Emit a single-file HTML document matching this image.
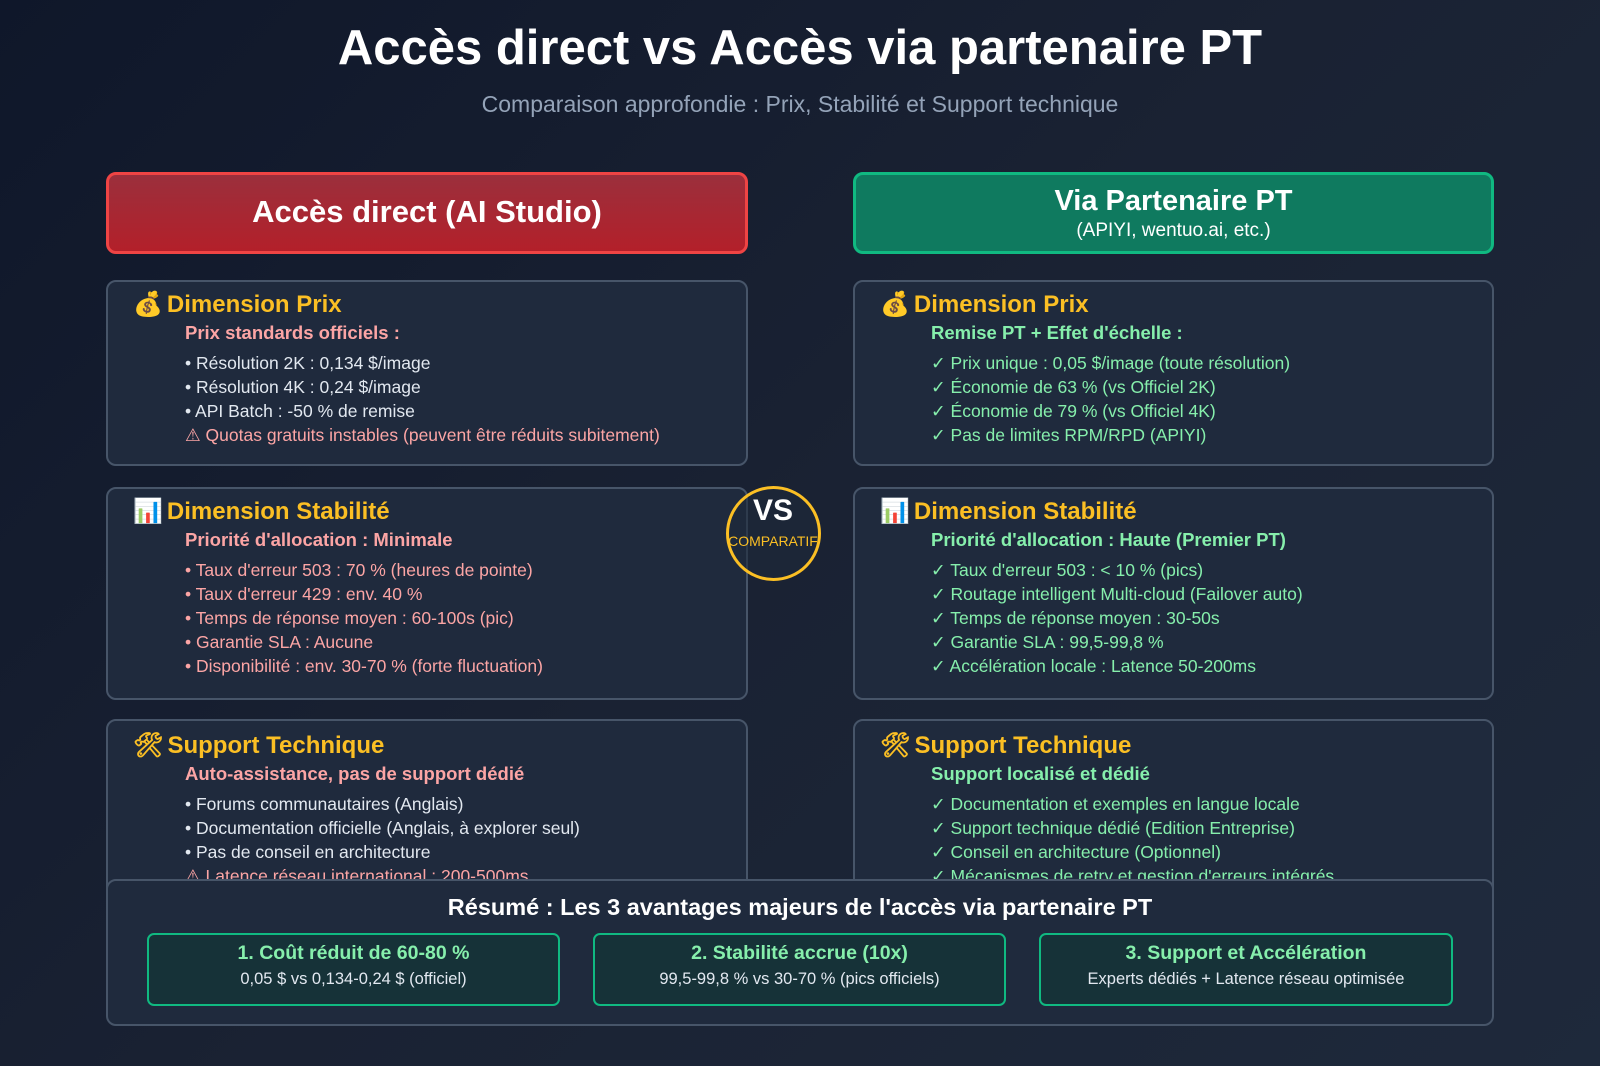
<!DOCTYPE html>
<html><head><meta charset="utf-8"><style>
*{margin:0;padding:0;box-sizing:border-box}
body{width:1600px;height:1066px;overflow:hidden;background:linear-gradient(135deg,#0f172a 0%,#1a2233 50%,#1e293b 100%);font-family:"Liberation Sans","DejaVu Sans",sans-serif;position:relative;color:#e2e8f0}
.a{position:absolute;white-space:nowrap}
.t{left:0;width:1600px;text-align:center}
.hdr{position:absolute;border-radius:10px;text-align:center;color:#fff}
.card{position:absolute;background:#1f2a3d;border:2px solid #475569;border-radius:10px;overflow:hidden}
.h{font-size:24px;font-weight:bold;color:#fbbf24}
.s{font-size:18.5px;font-weight:bold}
.i{font-size:17.5px}
.box{position:absolute;top:933px;height:73px;border:2px solid #10b981;border-radius:7px;background:#163238;text-align:center}
.box b{display:block;color:#86efac;font-size:19.5px;margin-top:7px}
.box span{display:block;color:#e2e8f0;font-size:16.5px;margin-top:5px}
</style></head><body>
<div class="a t" style="top:20px;font-size:49px;font-weight:bold;color:#fff">Accès direct vs Accès via partenaire PT</div>
<div class="a t" style="top:91px;font-size:23px;color:#94a3b8">Comparaison approfondie : Prix, Stabilité et Support technique</div>

<div class="hdr" style="left:106px;top:172px;width:642px;height:82px;background:linear-gradient(180deg,#9b2f3c,#b3202a);border:3px solid #ef4444;"><div style="font-size:31px;font-weight:bold;margin-top:19px">Accès direct (AI Studio)</div></div>
<div class="hdr" style="left:853px;top:172px;width:641px;height:82px;background:#0f7a5f;border:3px solid #10b981;"><div style="font-size:29px;font-weight:bold;margin-top:10px">Via Partenaire PT</div><div style="font-size:19px;margin-top:2px">(APIYI, wentuo.ai, etc.)</div></div>

<div class="card" style="left:106px;top:280px;width:642px;height:186px"></div>
<div class="card" style="left:106px;top:487px;width:642px;height:213px"></div>
<div class="card" style="left:106px;top:719px;width:642px;height:200px"></div>
<div class="card" style="left:853px;top:280px;width:641px;height:186px"></div>
<div class="card" style="left:853px;top:487px;width:641px;height:213px"></div>
<div class="card" style="left:853px;top:719px;width:641px;height:200px"></div>

<div class="a h" style="left:133px;top:290px">💰<span style="margin-left:4px">Dimension Prix</span></div>
<div class="a s" style="left:185px;top:322px;color:#fca5a5">Prix standards officiels :</div>
<div class="a i" style="left:185px;top:353px">• Résolution 2K : 0,134 $/image</div>
<div class="a i" style="left:185px;top:377px">• Résolution 4K : 0,24 $/image</div>
<div class="a i" style="left:185px;top:401px">• API Batch : -50 % de remise</div>
<div class="a i" style="left:185px;top:425px;color:#fca5a5">⚠ Quotas gratuits instables (peuvent être réduits subitement)</div>

<div class="a h" style="left:133px;top:497px">📊<span style="margin-left:4px">Dimension Stabilité</span></div>
<div class="a s" style="left:185px;top:529px;color:#fca5a5">Priorité d'allocation : Minimale</div>
<div class="a i" style="left:185px;top:560px;color:#fca5a5">• Taux d'erreur 503 : 70 % (heures de pointe)</div>
<div class="a i" style="left:185px;top:584px;color:#fca5a5">• Taux d'erreur 429 : env. 40 %</div>
<div class="a i" style="left:185px;top:608px;color:#fca5a5">• Temps de réponse moyen : 60-100s (pic)</div>
<div class="a i" style="left:185px;top:632px;color:#fca5a5">• Garantie SLA : Aucune</div>
<div class="a i" style="left:185px;top:656px;color:#fca5a5">• Disponibilité : env. 30-70 % (forte fluctuation)</div>

<div class="a h" style="left:133px;top:731px">🛠<span style="margin-left:4px">Support Technique</span></div>
<div class="a s" style="left:185px;top:763px;color:#fca5a5">Auto-assistance, pas de support dédié</div>
<div class="a i" style="left:185px;top:794px">• Forums communautaires (Anglais)</div>
<div class="a i" style="left:185px;top:818px">• Documentation officielle (Anglais, à explorer seul)</div>
<div class="a i" style="left:185px;top:842px">• Pas de conseil en architecture</div>
<div class="a i" style="left:185px;top:866px;color:#fca5a5">⚠ Latence réseau international : 200-500ms</div>

<div class="a h" style="left:880px;top:290px">💰<span style="margin-left:4px">Dimension Prix</span></div>
<div class="a s" style="left:931px;top:322px;color:#86efac">Remise PT + Effet d'échelle :</div>
<div class="a i" style="left:931px;top:353px;color:#86efac">✓ Prix unique : 0,05 $/image (toute résolution)</div>
<div class="a i" style="left:931px;top:377px;color:#86efac">✓ Économie de 63 % (vs Officiel 2K)</div>
<div class="a i" style="left:931px;top:401px;color:#86efac">✓ Économie de 79 % (vs Officiel 4K)</div>
<div class="a i" style="left:931px;top:425px;color:#86efac">✓ Pas de limites RPM/RPD (APIYI)</div>

<div class="a h" style="left:880px;top:497px">📊<span style="margin-left:4px">Dimension Stabilité</span></div>
<div class="a s" style="left:931px;top:529px;color:#86efac">Priorité d'allocation : Haute (Premier PT)</div>
<div class="a i" style="left:931px;top:560px;color:#86efac">✓ Taux d'erreur 503 : &lt; 10 % (pics)</div>
<div class="a i" style="left:931px;top:584px;color:#86efac">✓ Routage intelligent Multi-cloud (Failover auto)</div>
<div class="a i" style="left:931px;top:608px;color:#86efac">✓ Temps de réponse moyen : 30-50s</div>
<div class="a i" style="left:931px;top:632px;color:#86efac">✓ Garantie SLA : 99,5-99,8 %</div>
<div class="a i" style="left:931px;top:656px;color:#86efac">✓ Accélération locale : Latence 50-200ms</div>

<div class="a h" style="left:880px;top:731px">🛠<span style="margin-left:4px">Support Technique</span></div>
<div class="a s" style="left:931px;top:763px;color:#86efac">Support localisé et dédié</div>
<div class="a i" style="left:931px;top:794px;color:#86efac">✓ Documentation et exemples en langue locale</div>
<div class="a i" style="left:931px;top:818px;color:#86efac">✓ Support technique dédié (Edition Entreprise)</div>
<div class="a i" style="left:931px;top:842px;color:#86efac">✓ Conseil en architecture (Optionnel)</div>
<div class="a i" style="left:931px;top:866px;color:#86efac">✓ Mécanismes de retry et gestion d'erreurs intégrés</div>

<div style="position:absolute;left:726px;top:486px;width:95px;height:95px;border-radius:50%;border:3px solid #fbbf24;background:rgba(30,41,59,0.6)"></div>
<div class="a" style="left:723px;top:494px;width:100px;text-align:center;font-size:30px;font-weight:bold;color:#fff">VS</div>
<div class="a" style="left:723px;top:533px;width:100px;text-align:center;font-size:14px;color:#fbbf24">COMPARATIF</div>

<div style="position:absolute;left:106px;top:879px;width:1388px;height:147px;background:#1f2a3d;border:2px solid #475569;border-radius:10px;z-index:5">
<div style="position:absolute;left:0;width:100%;top:13px;text-align:center;font-size:23.5px;font-weight:bold;color:#fff">Résumé : Les 3 avantages majeurs de l'accès via partenaire PT</div>
</div>
<div class="box" style="left:147px;width:413px;z-index:6"><b>1. Coût réduit de 60-80 %</b><span>0,05 $ vs 0,134-0,24 $ (officiel)</span></div>
<div class="box" style="left:593px;width:413px;z-index:6"><b>2. Stabilité accrue (10x)</b><span>99,5-99,8 % vs 30-70 % (pics officiels)</span></div>
<div class="box" style="left:1039px;width:414px;z-index:6"><b>3. Support et Accélération</b><span>Experts dédiés + Latence réseau optimisée</span></div>
</body></html>
